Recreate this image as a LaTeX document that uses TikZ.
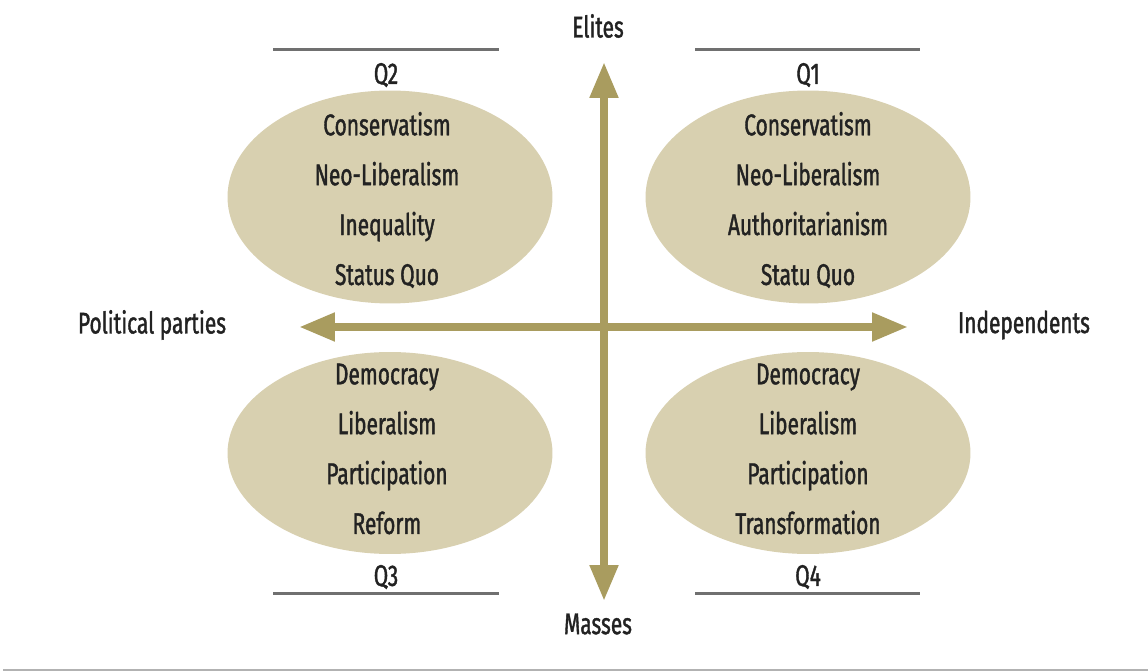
\documentclass[tikz,border=0pt]{standalone}
\usepackage{fontspec}
\setmainfont{Fira Sans}[FakeStretch=0.7, FakeBold=1.3]
\usepackage{tikz}
\usetikzlibrary{arrows.meta,positioning,shapes.geometric}
\definecolor{axisolive}{RGB}{169,156,95}
\definecolor{quadfill}{RGB}{216,208,176}
\definecolor{rulegray}{RGB}{112,112,112}
\definecolor{textdark}{RGB}{34,34,34}

\tikzset{
  quad/.style={ellipse, fill=quadfill, minimum width=6.5cm, minimum height=4.18cm, inner sep=0pt},
  words/.style={align=center, text=textdark, font=\fontsize{17}{28.4}\selectfont},
  label/.style={text=textdark, font=\fontsize{17}{20}\selectfont, inner sep=0pt},
  qrule/.style={rulegray, line width=0.06cm},
  axis/.style={axisolive, line width=0.16cm,
    {Triangle[length=0.72cm, width=0.54cm]}-{Triangle[length=0.72cm, width=0.54cm]}}
}

\begin{document}
\begin{tikzpicture}[x=0.02cm, y=-0.02cm]
  \useasboundingbox (0,0) rectangle (1148,671);

  % quadrant ellipses
  \node[quad, minimum height=4.26cm] (q2) at (390,197) {};
  \node[quad, minimum height=4.26cm] (q1) at (808,197) {};
  \node[quad, minimum height=4.04cm] (q3) at (390,453) {};
  \node[quad, minimum height=4.04cm] (q4) at (808,453) {};

  \node[words] (w2) at (387,200) {Conservatism\\Neo-Liberalism\\Inequality\\Status Quo};
  \node[words] (w1) at (808,200) {Conservatism\\Neo-Liberalism\\Authoritarianism\\Statu Quo};
  \node[words] (w3) at (387,449) {Democracy\\Liberalism\\Participation\\Reform};
  \node[words] (w4) at (808,449) {Democracy\\Liberalism\\Participation\\Transformation};

  % axes
  \coordinate (top) at (604,62);
  \coordinate (bot) at (604,601);
  \coordinate (lft) at (299,327);
  \coordinate (rgt) at (908,327);
  \draw[axis] (bot) -- (top);
  \draw[axis] (lft) -- (rgt);

  \node[label] (elites) at (598,26) {Elites};
  \node[label] (masses) at (598,624) {Masses};
  \node[label] (parties) at (152,325) {Political parties};
  \node[label] (indep) at (1024,325) {Independents};

  % quadrant captions with rules
  \node[label] (c2) at (386,75) {Q2};
  \node[label] (c1) at (808,75) {Q1};
  \node[label] (c3) at (386,577) {Q3};
  \node[label] (c4) at (808,577) {Q4};
  \draw[qrule] (273,50) -- (499,50);
  \draw[qrule] (695,50) -- (920,50);
  \draw[qrule] (273,593) -- (499,593);
  \draw[qrule] (695,593) -- (920,593);

  \draw[gray!60, line width=0.05cm] (3,670) -- (1148,670);
\end{tikzpicture}
\end{document}
